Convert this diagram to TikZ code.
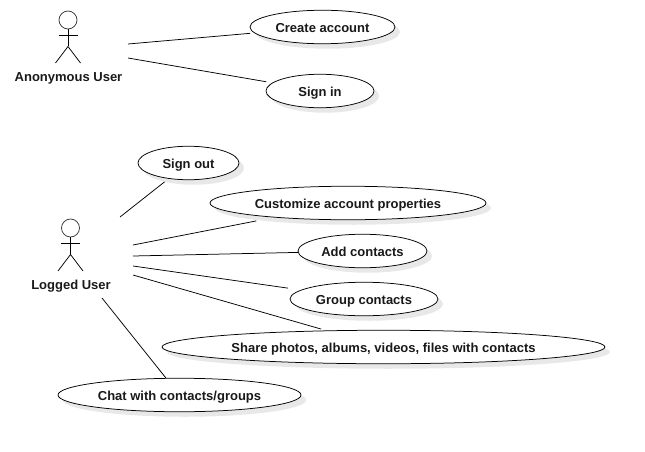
\documentclass[tikz,border=0pt]{standalone}
\usepackage{fontspec}
\setmainfont{Liberation Sans}
\usetikzlibrary{shapes.geometric,shadows}
\tikzset{
	usecase/.style={ellipse,draw=black,fill=white,line width=0.75pt,inner sep=0pt,
		font=\bfseries\fontsize{13}{15}\selectfont,text=black!90,text height=11pt,text depth=0pt,
		drop shadow={shadow xshift=5pt,shadow yshift=-5pt,fill=black!20,opacity=0.45}},
	actorname/.style={inner sep=0pt,font=\bfseries\fontsize{13}{15}\selectfont,text=black!90,text height=11pt,text depth=0pt},
	assoc/.style={draw=black,line width=0.75pt},
	actor/.pic={
		\node [circle,draw=black!80,line width=0.75pt,minimum size=18pt,inner sep=0pt] (-head) at (0,0) {};
		\coordinate (-hip) at (0,26.5);
		\draw [black,line width=0.75pt] (-head) -- (-hip);
		\draw [black,line width=0.75pt] (-9.5,15) -- (9.5,15);
		\draw [black,line width=0.75pt] (-12.5,43) -- (-hip) -- (12.5,43);
	}
}
\begin{document}
\begin{tikzpicture}[x=1pt,y=-1pt]
	\useasboundingbox (0,0) rectangle (645,452);
	% use cases
	\node [usecase,minimum width=145pt,minimum height=33.5pt] (create) at (322.5,27) {Create account};
	\node [usecase,minimum width=108pt,minimum height=33.5pt] (signin) at (320,91) {Sign in};
	\node [usecase,minimum width=101pt,minimum height=33.5pt] (signout) at (188.5,163) {Sign out};
	\node [usecase,minimum width=276pt,minimum height=33.5pt] (customize) at (348,203) {Customize account properties};
	\node [usecase,minimum width=129pt,minimum height=33.5pt] (addcontacts) at (362.5,251) {Add contacts};
	\node [usecase,minimum width=148pt,minimum height=33.5pt] (groupcontacts) at (364,299) {Group contacts};
	\node [usecase,minimum width=443pt,minimum height=33.5pt] (share) at (383.5,347) {Share photos, albums, videos, files with contacts};
	\node [usecase,minimum width=243pt,minimum height=33.5pt] (chat) at (179.5,395) {Chat with contacts/groups};
	% actors
	\pic (anon) at (68,20) {actor};
	\node [actorname] (anonname) at (68.5,76) {Anonymous User};
	\pic (logged) at (70.5,228) {actor};
	\node [actorname] (loggedname) at (71,284) {Logged User};
	% free ends near the actors
	\coordinate (a1) at (128,44);
	\coordinate (a2) at (128,58);
	\coordinate (l1) at (120,217);
	\coordinate (l2) at (133,245);
	\coordinate (l3) at (133,256);
	\coordinate (l4) at (133,266);
	\coordinate (l5) at (133,275);
	\coordinate (l6) at (102,298);
	% associations
	\draw [assoc,shorten >=4pt] (a1) -- (create);
	\draw [assoc,shorten >=6pt] (a2) -- (signin);
	\draw [assoc,shorten >=5pt] (l1) -- (signout);
	\draw [assoc,shorten >=18pt] (l2) -- (customize);
	\draw [assoc] (l3) -- (addcontacts);
	\draw [assoc,shorten >=13pt] (l4) -- (groupcontacts);
	\draw [assoc,shorten >=5pt] (l5) -- (share);
	\draw [assoc] (l6) -- (chat);
\end{tikzpicture}
\end{document}
